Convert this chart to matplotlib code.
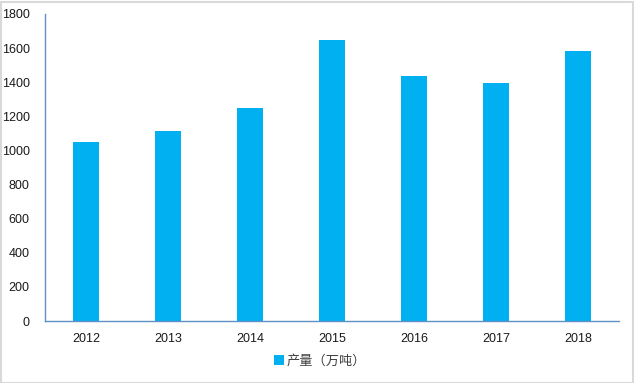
import matplotlib.pyplot as plt
from matplotlib.patches import Rectangle

plt.rcParams['font.family'] = ['Liberation Sans', 'Noto Sans CJK SC', 'DejaVu Sans']

# données
annees = ['2012', '2013', '2014', '2015', '2016', '2017', '2018']
production = [1050, 1115, 1250, 1650, 1435, 1395, 1585]
yticks = [0, 200, 400, 600, 800, 1000, 1200, 1400, 1600, 1800]

fig = plt.figure(figsize=(6.34, 3.83), dpi=100)
ax = fig.add_axes([45 / 634, 62 / 383, 574 / 634, 307 / 383])

# cadre gris autour de la figure
fig.patches.append(Rectangle((0.5 / 634, 0.5 / 383), 632 / 634, 381 / 383, transform=fig.transFigure,
                             fill=False, edgecolor='#d9d9d9', linewidth=1.5))

x = range(len(annees))
ax.bar(x, production, width=0.32, color='#00b0f0', label='产量（万吨）')

ax.set_xlim(-0.5, len(annees) - 0.5)
ax.set_ylim(0, 1800)
ax.set_yticks(yticks)
ax.set_xticks(list(x))
ax.set_xticklabels(annees)
ax.tick_params(axis='both', length=0, labelsize=9, colors='#1a1a1a')
ax.tick_params(axis='x', pad=9)
ax.tick_params(axis='y', pad=11)

for s in ['top', 'right']:
    ax.spines[s].set_visible(False)
for s in ['left', 'bottom']:
    ax.spines[s].set_color('#5f8fc4')
    ax.spines[s].set_linewidth(1)

leg = fig.legend(loc='center', bbox_to_anchor=(320 / 634, 1 - 361 / 383), frameon=False,
                 handlelength=0.7, handleheight=0.7, handletextpad=0.2,
                 prop={'family': ['Noto Sans CJK SC'], 'size': 9.5})
for t in leg.get_texts():
    t.set_color('#404040')

fig.savefig('out.png', dpi=100)
